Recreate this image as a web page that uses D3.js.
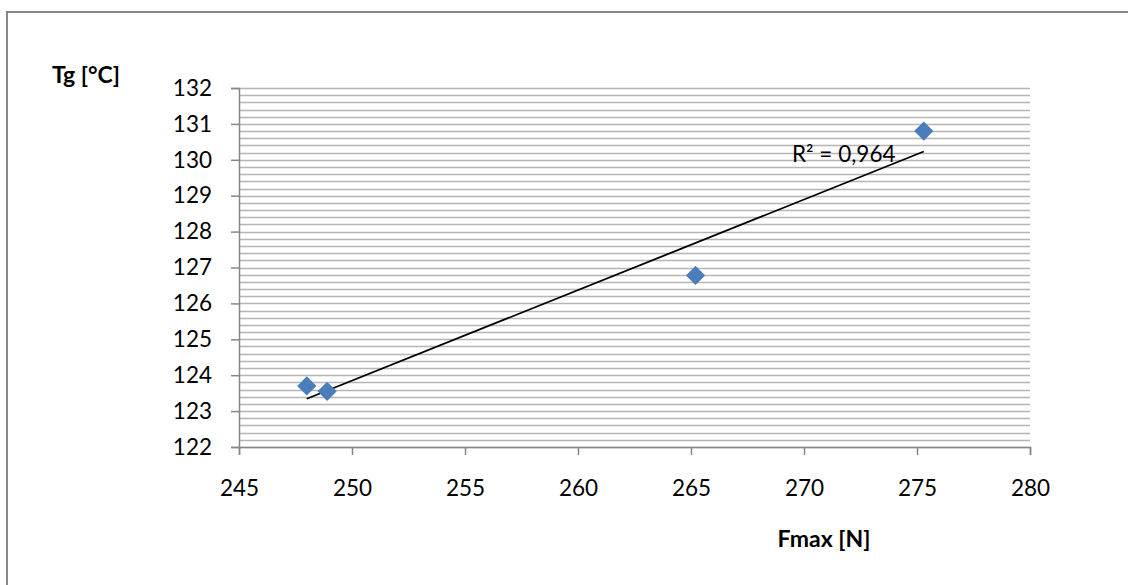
<!DOCTYPE html>
<html>
<head>
<meta charset="utf-8">
<script src="https://cdn.jsdelivr.net/npm/d3@7"></script>
<style>
  html, body { margin: 0; padding: 0; background: #fff; }
  svg { display: block; }
  text { font-family: Lato, "Open Sans", sans-serif; fill: #000; }
</style>
</head>
<body>
<svg id="chart" width="1128" height="585"></svg>
<script>
// Measurements: maximum force vs. glass transition temperature
const fmax = [248.0, 248.9, 265.2, 275.3];
const tg = [123.7, 123.55, 126.78, 130.8];

const xTicks = [245, 250, 255, 260, 265, 270, 275, 280];
const yTicks = [122, 123, 124, 125, 126, 127, 128, 129, 130, 131, 132];

const xTitle = "Fmax [N]";
const yTitle = "Tg [°C]";

const svg = d3.select("#chart");
const W = 1128, H = 585;
const plot = { left: 239, right: 1030, top: 88, bottom: 447 };
const FS = 22.5;

// Outer chart frame
svg.append("rect")
  .attr("x", 7).attr("y", 12)
  .attr("width", W).attr("height", H)
  .attr("fill", "#fff")
  .attr("stroke", "#878787").attr("stroke-width", 2);

const x = d3.scaleLinear().domain([245, 280]).range([plot.left, plot.right]);
const y = d3.scaleLinear().domain([122, 132]).range([plot.bottom, plot.top]);

// Horizontal gridlines every 0.2 °C
const gridVals = d3.range(0, 51).map(i => 122 + i * 0.2);
svg.append("g").selectAll("line")
  .data(gridVals)
  .join("line")
  .attr("x1", plot.left).attr("x2", plot.right)
  .attr("y1", d => Math.round(y(d)) + 0.5)
  .attr("y2", d => Math.round(y(d)) + 0.5)
  .attr("stroke", "#b5b5b5").attr("stroke-width", 1.3);

// Y axis
const yAxis = d3.axisLeft(y).tickValues(yTicks).tickSize(8).tickPadding(19).tickFormat(d3.format("d"));
const gy = svg.append("g").attr("transform", `translate(${plot.left},0)`).call(yAxis);
gy.select(".domain").attr("stroke", "#868686").attr("stroke-width", 1.5);
gy.selectAll(".tick line").attr("stroke", "#868686").attr("stroke-width", 1.5);
gy.selectAll(".tick text").attr("font-size", FS).attr("font-family", "Lato, sans-serif").attr("fill", "#000");

// X axis
const xAxis = d3.axisBottom(x).tickValues(xTicks).tickSize(8).tickPadding(25).tickFormat(d3.format("d"));
const gx = svg.append("g").attr("transform", `translate(0,${plot.bottom})`).call(xAxis);
gx.select(".domain").attr("stroke", "#868686").attr("stroke-width", 1.5);
gx.selectAll(".tick line").attr("stroke", "#868686").attr("stroke-width", 1.5);
gx.selectAll(".tick text").attr("font-size", FS).attr("font-family", "Lato, sans-serif").attr("fill", "#000");

// Linear trendline (least squares)
const n = fmax.length;
const mx = d3.mean(fmax), my = d3.mean(tg);
let sxy = 0, sxx = 0, syy = 0;
for (let i = 0; i < n; i++) {
  sxy += (fmax[i] - mx) * (tg[i] - my);
  sxx += (fmax[i] - mx) ** 2;
  syy += (tg[i] - my) ** 2;
}
const slope = sxy / sxx;
const intercept = my - slope * mx;
const r2 = (sxy * sxy) / (sxx * syy);
const [xmin, xmax] = d3.extent(fmax);

svg.append("line")
  .attr("x1", x(xmin)).attr("y1", y(intercept + slope * xmin))
  .attr("x2", x(xmax)).attr("y2", y(intercept + slope * xmax))
  .attr("stroke", "#000").attr("stroke-width", 1.8);

// Data markers (diamonds)
svg.append("g").selectAll("path")
  .data(fmax.map((f, i) => [f, tg[i]]))
  .join("path")
  .attr("d", d3.symbol().type(d3.symbolSquare).size(185)())
  .attr("transform", d => `translate(${x(d[0])},${y(d[1])}) rotate(45)`)
  .attr("fill", "#4a7ebb");

// R² label
svg.append("text")
  .attr("x", 792).attr("y", 162)
  .attr("font-size", FS)
  .text("R² = " + r2.toFixed(3).replace(".", ","));

// Axis titles
svg.append("text")
  .attr("x", 52).attr("y", 83)
  .attr("font-size", 23).attr("font-weight", "bold")
  .text(yTitle);

svg.append("text")
  .attr("x", 824).attr("y", 547)
  .attr("text-anchor", "middle")
  .attr("font-size", 23).attr("font-weight", "bold")
  .text(xTitle);
</script>
</body>
</html>
